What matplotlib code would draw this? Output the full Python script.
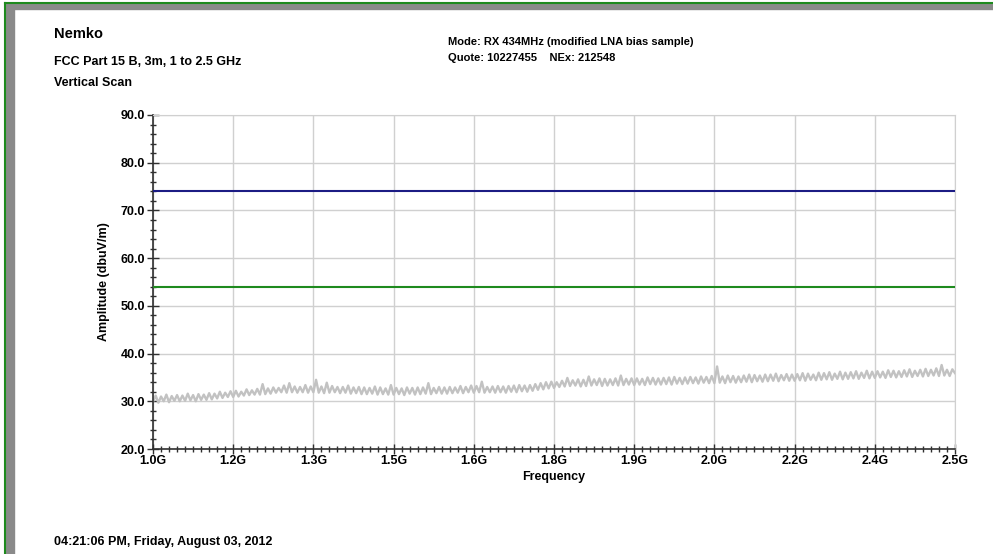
import numpy as np
import matplotlib
matplotlib.use('Agg')
import matplotlib.pyplot as plt
from matplotlib.patches import Rectangle
from matplotlib.lines import Line2D

plt.rcParams['font.family'] = ['Liberation Sans', 'DejaVu Sans']
plt.rcParams['font.weight'] = 'bold'

# Scan data: peak amplitude (dBuV/m) every 5 MHz from 1.000 to 2.500 GHz
amplitude = [
    29.9, 31.2, 29.7, 31.0, 30.0, 31.4, 29.8, 31.1, 30.1, 31.3,
    30.0, 31.2, 30.1, 31.6, 30.2, 31.3, 30.0, 31.5, 30.3, 31.4,
    30.3, 31.7, 30.4, 31.6, 30.6, 32.0, 30.7, 31.8, 30.9, 32.1,
    30.9, 32.2, 31.0, 32.0, 31.2, 32.5, 31.3, 32.3, 31.4, 32.6,
    31.4, 33.6, 31.5, 32.7, 31.6, 32.9, 31.8, 32.8, 31.9, 33.3,
    31.8, 33.8, 31.9, 33.1, 31.8, 33.0, 31.9, 33.4, 31.8, 33.1,
    31.9, 34.5, 31.8, 33.1, 31.7, 33.9, 31.8, 33.2, 31.9, 33.0,
    31.7, 33.0, 31.8, 33.3, 31.6, 32.9, 31.7, 33.0, 31.5, 32.9,
    31.5, 32.8, 31.6, 33.1, 31.4, 32.9, 31.5, 32.7, 31.4, 33.4,
    31.4, 32.8, 31.5, 32.7, 31.3, 32.9, 31.6, 32.8, 31.4, 32.9,
    31.5, 32.9, 31.6, 33.8, 31.5, 32.8, 31.7, 33.0, 31.6, 32.9,
    31.6, 33.0, 31.7, 32.9, 31.8, 33.2, 31.7, 33.0, 31.9, 33.3,
    31.8, 33.2, 31.9, 34.1, 31.8, 33.0, 31.9, 33.1, 31.8, 33.2,
    31.9, 33.1, 31.8, 33.2, 32.0, 33.3, 31.9, 33.4, 32.1, 33.3,
    32.0, 33.4, 32.2, 33.6, 32.4, 33.8, 32.5, 34.0, 32.7, 34.1,
    32.8, 34.0, 33.0, 34.3, 33.1, 34.9, 33.2, 34.4, 33.3, 34.6,
    33.1, 34.5, 33.2, 35.2, 33.3, 34.6, 33.4, 34.8, 33.2, 34.7,
    33.3, 34.6, 33.4, 34.8, 33.3, 35.4, 33.4, 34.7, 33.5, 34.8,
    33.4, 34.8, 33.5, 34.7, 33.4, 35.0, 33.6, 34.9, 33.5, 34.8,
    33.5, 34.9, 33.6, 35.0, 33.5, 35.1, 33.7, 34.9, 33.6, 35.0,
    33.7, 35.1, 33.8, 35.0, 33.7, 35.2, 33.9, 35.1, 33.8, 35.3,
    33.8, 37.3, 33.9, 35.2, 33.8, 35.4, 34.0, 35.3, 33.9, 35.2,
    34.0, 35.4, 34.1, 35.6, 34.0, 35.5, 34.2, 35.4, 34.1, 35.6,
    34.2, 35.6, 34.3, 35.8, 34.2, 35.5, 34.4, 35.7, 34.3, 35.6,
    34.3, 35.7, 34.4, 35.9, 34.3, 35.8, 34.5, 35.6, 34.4, 36.0,
    34.5, 35.9, 34.6, 36.1, 34.5, 35.8, 34.7, 36.2, 34.6, 36.0,
    34.7, 36.1, 34.8, 36.3, 34.7, 36.0, 34.9, 36.4, 34.8, 36.2,
    34.9, 36.3, 35.0, 36.2, 34.9, 36.5, 35.1, 36.4, 35.0, 36.3,
    35.1, 36.5, 35.2, 36.7, 35.1, 36.4, 35.3, 36.6, 35.2, 36.8,
    35.3, 36.6, 35.4, 36.9, 35.3, 37.6, 35.4, 36.6, 35.3, 36.7,
    35.9,
]
freq_ghz = np.linspace(1.0, 2.5, len(amplitude))

# Limit lines
limit_peak = 74.0
limit_avg = 54.0

# Axis ticks
x_ticks = [1.0, 1.15, 1.3, 1.45, 1.6, 1.75, 1.9, 2.05, 2.2, 2.35, 2.5]
x_tick_labels = ['1.0G', '1.2G', '1.3G', '1.5G', '1.6G', '1.8G', '1.9G',
                 '2.0G', '2.2G', '2.4G', '2.5G']
y_ticks = [20, 30, 40, 50, 60, 70, 80, 90]
y_tick_labels = ['20.0', '30.0', '40.0', '50.0', '60.0', '70.0', '80.0', '90.0']

W, H = 993, 554
fig = plt.figure(figsize=(W / 100, H / 100), dpi=100)
ax = fig.add_axes([153 / W, 1 - 449 / H, 802 / W, 334 / H])

ax.plot(freq_ghz, amplitude, color='#c2c2c2', lw=1.7, zorder=2)
ax.axhline(limit_peak, color='#1c1c84', lw=1.5, zorder=3)
ax.axhline(limit_avg, color='#1e8a1e', lw=1.5, zorder=3)

ax.set_xlim(1.0, 2.5)
ax.set_ylim(20, 90)
ax.set_xticks(x_ticks)
ax.set_xticklabels(x_tick_labels)
ax.set_yticks(y_ticks)
ax.set_yticklabels(y_tick_labels)
ax.set_xticks(np.arange(1.0, 2.5001, 0.015), minor=True)
ax.set_yticks(np.arange(20, 90.001, 2), minor=True)

ax.grid(True, which='major', color='#d0d0d0', lw=1.0, zorder=0)
ax.tick_params(which='both', direction='inout', color='#303030', width=1,
               labelsize=9, pad=1)
ax.tick_params(axis='x', which='major', length=7)
ax.tick_params(axis='x', which='minor', length=5)
ax.tick_params(axis='y', which='major', length=9)
ax.tick_params(axis='y', which='minor', length=5)
for s in ('top', 'right'):
    ax.spines[s].set_color('#d0d0d0')
for s in ('left', 'bottom'):
    ax.spines[s].set_color('#303030')
    ax.spines[s].set_linewidth(1.2)

ax.set_xlabel('Frequency', fontsize=9, fontweight='bold', labelpad=3)
ax.set_ylabel('Amplitude (dbuV/m)', fontsize=9, fontweight='bold', labelpad=8)

# Header and footer text
fig.text(54 / W, 1 - 34 / H, 'Nemko', fontsize=10.5, fontweight='bold', va='center')
fig.text(54 / W, 1 - 62 / H, 'FCC Part 15 B, 3m, 1 to 2.5 GHz', fontsize=9,
         fontweight='bold', va='center')
fig.text(54 / W, 1 - 83 / H, 'Vertical Scan', fontsize=9, fontweight='bold',
         va='center')
fig.text(448 / W, 1 - 42 / H, 'Mode: RX 434MHz (modified LNA bias sample)',
         fontsize=8, fontweight='bold', va='center')
fig.text(448 / W, 1 - 58 / H, 'Quote: 10227455    NEx: 212548', fontsize=8,
         fontweight='bold', va='center')
fig.text(54 / W, 1 - 542 / H, '04:21:06 PM, Friday, August 03, 2012',
         fontsize=9, fontweight='bold', va='center')

# Window border: grey bevel with a green edge
fig.patches.append(Rectangle((5 / W, 0), 9 / W, 1 - 4 / H, transform=fig.transFigure,
                             color='#8a8a8a', zorder=1))
fig.patches.append(Rectangle((5 / W, 1 - 9 / H), 1, 5 / H, transform=fig.transFigure,
                             color='#8a8a8a', zorder=1))
fig.lines.append(Line2D([4.5 / W, 4.5 / W], [0, 1 - 3 / H], transform=fig.transFigure,
                        color='#1e8a1e', lw=1.5))
fig.lines.append(Line2D([4.5 / W, 1], [1 - 3 / H, 1 - 3 / H], transform=fig.transFigure,
                        color='#1e8a1e', lw=1.5))

fig.savefig('out.png', dpi=100)
